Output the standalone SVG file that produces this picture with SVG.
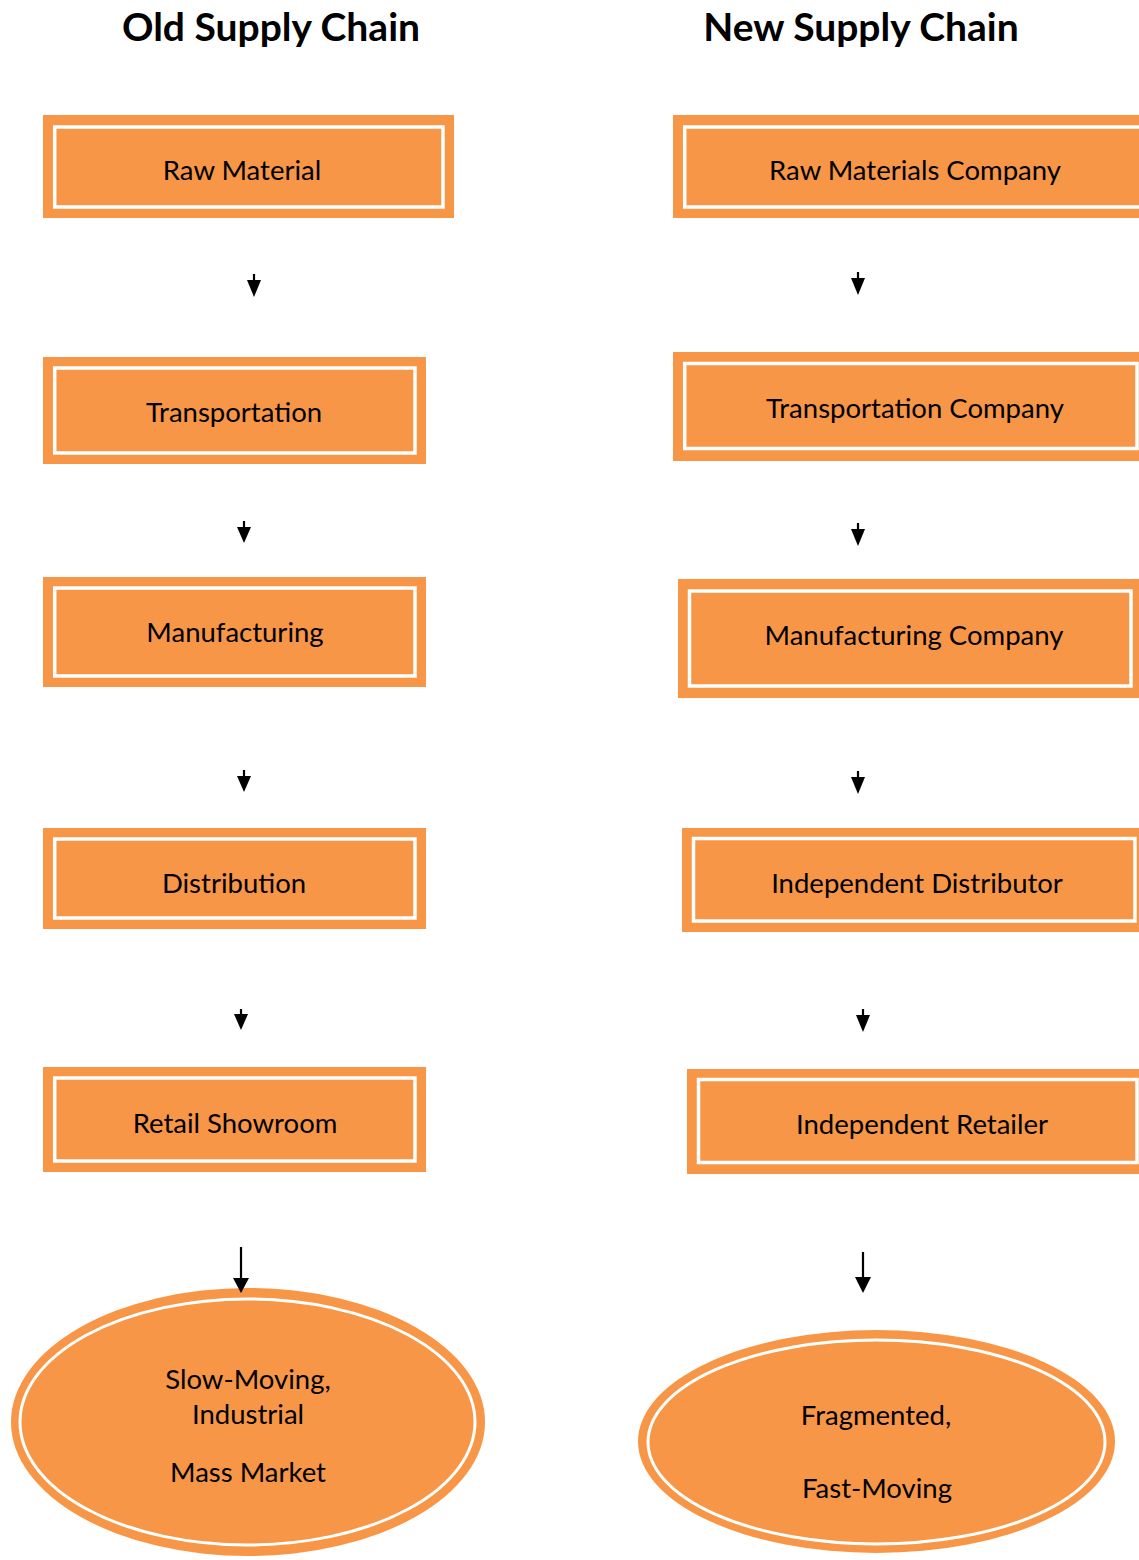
<svg xmlns="http://www.w3.org/2000/svg" width="1139" height="1560" viewBox="0 0 1139 1560">
<style>
.outer{fill:#F79646;stroke:none}
.inner{fill:#F79646;stroke:#FFFFFF;stroke-width:3.5}
.lbl{font-family:Lato,"Open Sans",sans-serif;font-size:27.5px;fill:#000;text-anchor:middle}
.title{font-family:Lato,"Open Sans",sans-serif;font-size:39px;font-weight:bold;fill:#000;text-anchor:middle}
.stem{stroke:#000;stroke-width:2.2;fill:none}
.head{fill:#000}
</style>
<rect x="0" y="0" width="1139" height="1560" fill="#FFFFFF"/>
<g id="titles">
<text class="title" x="271" y="41">Old Supply Chain</text>
<text class="title" x="861" y="41">New Supply Chain</text>
</g>
<g id="old-raw-material">
<rect class="outer" x="43" y="115" width="411" height="103"/>
<rect class="inner" x="54.7" y="127" width="388.3" height="80"/>
<text class="lbl" x="242" y="180">Raw Material</text>
</g>
<g id="old-transportation">
<rect class="outer" x="43" y="357" width="383" height="107"/>
<rect class="inner" x="54.7" y="368" width="360.3" height="85"/>
<text class="lbl" x="234" y="422">Transportation</text>
</g>
<g id="old-manufacturing">
<rect class="outer" x="43" y="577" width="383" height="110"/>
<rect class="inner" x="54.7" y="588" width="360.3" height="88"/>
<text class="lbl" x="235" y="642">Manufacturing</text>
</g>
<g id="old-distribution">
<rect class="outer" x="43" y="828" width="383" height="101"/>
<rect class="inner" x="54.7" y="839" width="360.3" height="79"/>
<text class="lbl" x="234" y="893">Distribution</text>
</g>
<g id="old-retail-showroom">
<rect class="outer" x="43" y="1067" width="383" height="105"/>
<rect class="inner" x="54.7" y="1078" width="360.3" height="83"/>
<text class="lbl" x="235" y="1133">Retail Showroom</text>
</g>
<g id="old-market">
<ellipse cx="248" cy="1422" rx="237" ry="134" fill="#F79646"/>
<ellipse cx="247.5" cy="1422" rx="227.5" ry="123" fill="#F79646" stroke="#FFFFFF" stroke-width="3"/>
<text class="lbl" x="248" y="1389">Slow-Moving,</text>
<text class="lbl" x="248" y="1424">Industrial</text>
<text class="lbl" x="248" y="1482">Mass Market</text>
</g>
<g id="new-raw-materials-company">
<rect class="outer" x="673" y="115" width="480" height="103"/>
<rect class="inner" x="684.7" y="127" width="470" height="80"/>
<text class="lbl" x="915" y="180">Raw Materials Company</text>
</g>
<g id="new-transportation-company">
<rect class="outer" x="673" y="352" width="480" height="109"/>
<rect class="inner" x="684.7" y="363.5" width="452.3" height="85"/>
<text class="lbl" x="915" y="418">Transportation Company</text>
</g>
<g id="new-manufacturing-company">
<rect class="outer" x="678" y="579" width="475" height="119"/>
<rect class="inner" x="689.5" y="591" width="441.5" height="95"/>
<text class="lbl" x="914" y="645">Manufacturing Company</text>
</g>
<g id="new-independent-distributor">
<rect class="outer" x="682" y="828" width="471" height="104"/>
<rect class="inner" x="693.5" y="838.5" width="441.5" height="82.5"/>
<text class="lbl" x="917" y="893">Independent Distributor</text>
</g>
<g id="new-independent-retailer">
<rect class="outer" x="687" y="1069" width="466" height="105"/>
<rect class="inner" x="698.5" y="1079.5" width="438.5" height="83"/>
<text class="lbl" x="922" y="1134">Independent Retailer</text>
</g>
<g id="new-market">
<ellipse cx="876.5" cy="1441.5" rx="238.5" ry="111.5" fill="#F79646"/>
<ellipse cx="876.5" cy="1442" rx="228.5" ry="102" fill="#F79646" stroke="#FFFFFF" stroke-width="3"/>
<text class="lbl" x="876" y="1425">Fragmented,</text>
<text class="lbl" x="877" y="1498">Fast-Moving</text>
</g>
<g id="connectors">
<line class="stem" x1="254" y1="274" x2="254" y2="282"/><polygon class="head" points="247,280 261,280 254,297"/>
<line class="stem" x1="244" y1="521" x2="244" y2="529"/><polygon class="head" points="237,527 251,527 244,543"/>
<line class="stem" x1="244" y1="770" x2="244" y2="778"/><polygon class="head" points="237,776 251,776 244,792"/>
<line class="stem" x1="241" y1="1009" x2="241" y2="1017"/><polygon class="head" points="234,1014 248,1014 241,1030"/>
<line class="stem" x1="241" y1="1247" x2="241" y2="1280"/><polygon class="head" points="233,1278 249,1278 241,1293"/>
<line class="stem" x1="858" y1="272" x2="858" y2="280"/><polygon class="head" points="851,278 865,278 858,295"/>
<line class="stem" x1="858" y1="523" x2="858" y2="531"/><polygon class="head" points="851,529 865,529 858,546"/>
<line class="stem" x1="858" y1="771" x2="858" y2="779"/><polygon class="head" points="851,777 865,777 858,794"/>
<line class="stem" x1="863" y1="1009" x2="863" y2="1017"/><polygon class="head" points="856,1015 870,1015 863,1032"/>
<line class="stem" x1="863" y1="1252" x2="863" y2="1280"/><polygon class="head" points="855,1277 871,1277 863,1293"/>
</g>
</svg>
